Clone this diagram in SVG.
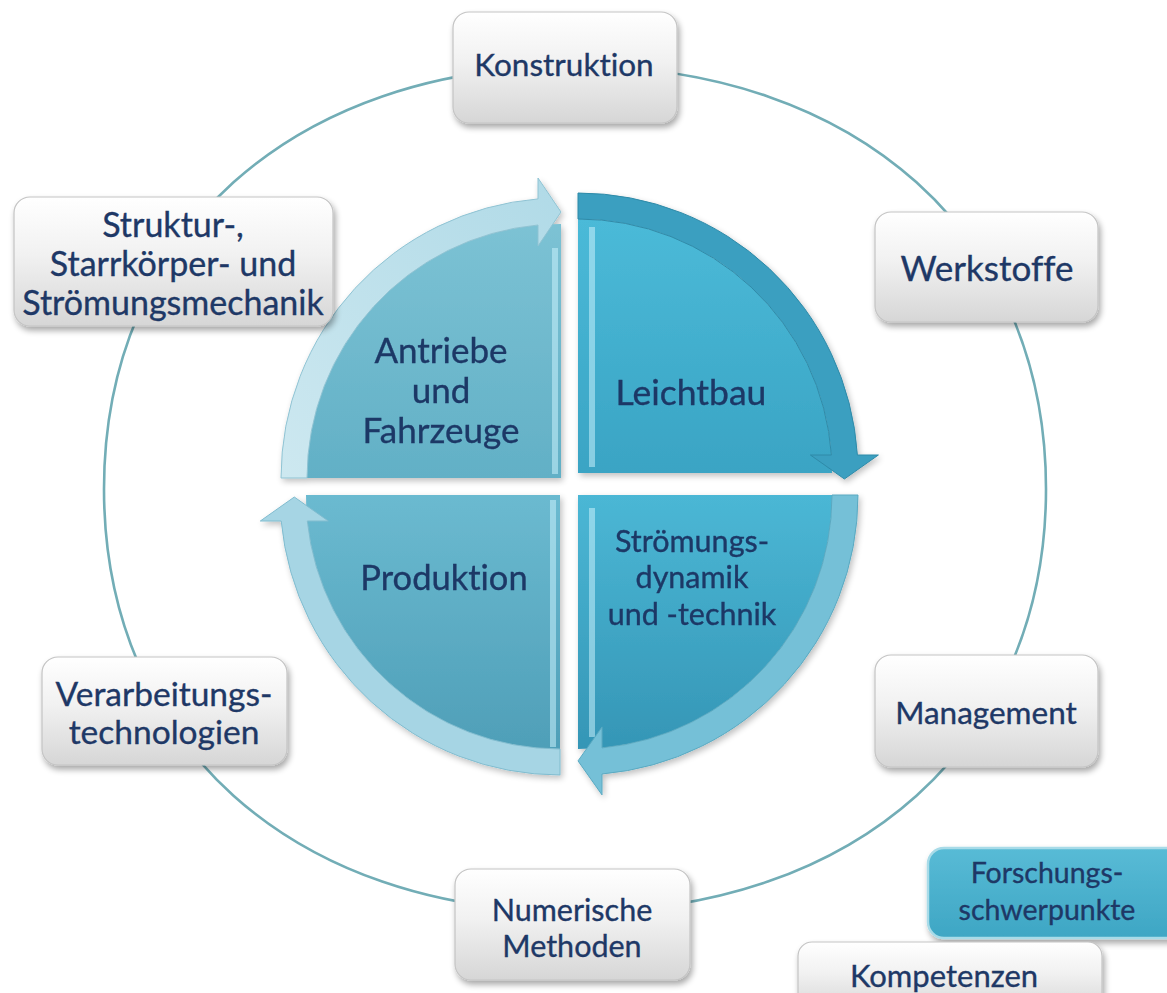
<svg xmlns="http://www.w3.org/2000/svg" width="1167" height="993" viewBox="0 0 1167 993">
  <defs>
    <linearGradient id="boxGrad" x1="0" y1="0" x2="0" y2="1">
      <stop offset="0" stop-color="#ffffff"/>
      <stop offset="0.45" stop-color="#f1f1f1"/>
      <stop offset="1" stop-color="#d6d6d6"/>
    </linearGradient>
    <linearGradient id="tealBoxGrad" x1="0" y1="0" x2="0" y2="1">
      <stop offset="0" stop-color="#58bbd6"/>
      <stop offset="1" stop-color="#3ea6c4"/>
    </linearGradient>
    <linearGradient id="tlFill" x1="0" y1="0" x2="0" y2="1">
      <stop offset="0" stop-color="#7cc2d4"/>
      <stop offset="1" stop-color="#62b0c6"/>
    </linearGradient>
    <linearGradient id="tlBand" x1="0" y1="1" x2="1" y2="0">
      <stop offset="0" stop-color="#cde8f0"/>
      <stop offset="1" stop-color="#b0dae7"/>
    </linearGradient>
    <linearGradient id="trFill" x1="0" y1="0" x2="0" y2="1">
      <stop offset="0" stop-color="#4bbad8"/>
      <stop offset="1" stop-color="#3aa4c4"/>
    </linearGradient>
    <linearGradient id="blFill" x1="0" y1="0" x2="0" y2="1">
      <stop offset="0" stop-color="#6bbad0"/>
      <stop offset="1" stop-color="#4f9fb8"/>
    </linearGradient>
    <linearGradient id="brFill" x1="0" y1="0" x2="0" y2="1">
      <stop offset="0" stop-color="#4bb7d5"/>
      <stop offset="1" stop-color="#3596b6"/>
    </linearGradient>
    <filter id="shadow" x="-10%" y="-10%" width="125%" height="130%">
      <feGaussianBlur in="SourceAlpha" stdDeviation="3"/>
      <feOffset dx="2" dy="4" result="b"/>
      <feComponentTransfer><feFuncA type="linear" slope="0.35"/></feComponentTransfer>
      <feMerge><feMergeNode/><feMergeNode in="SourceGraphic"/></feMerge>
    </filter>
    <filter id="softShadow" x="-10%" y="-10%" width="125%" height="125%">
      <feGaussianBlur in="SourceAlpha" stdDeviation="3"/>
      <feOffset dx="2" dy="3" result="b"/>
      <feComponentTransfer><feFuncA type="linear" slope="0.25"/></feComponentTransfer>
      <feMerge><feMergeNode/><feMergeNode in="SourceGraphic"/></feMerge>
    </filter>
  </defs>
  <style>
    .box { fill: url(#boxGrad); stroke: #c4c4c4; stroke-width: 1.2; filter: url(#shadow); }
    .tealbox { fill: url(#tealBoxGrad); stroke: #a8dbe8; stroke-width: 2.5; filter: url(#shadow); }
    .lbl { font-family: Lato, "Open Sans", "Liberation Sans", sans-serif; fill: #1e3866; stroke: #1e3866; stroke-width: 0.35; text-anchor: middle; font-variant-ligatures: none; font-feature-settings: "liga" 0, "clig" 0; }
    .ring { fill: none; stroke: #72adb6; stroke-width: 2.6; }
    .hl { fill: #c9f1fb; opacity: 0.55; }
  </style>

  <rect width="1167" height="993" fill="#ffffff"/>

  <!-- ring linking the competence boxes -->
  <g id="connectors">
    <path class="ring" d="M104,489 C104,235.2 292.4,66 575,66 C857.6,66 1046,235.2 1046,489 C1046,742.8 857.6,912 575,912 C292.4,912 104,742.8 104,489 Z"/>
  </g>

  <!-- four research quadrants -->
  <g id="q-antriebe" filter="url(#softShadow)">
    <path d="M561,478 L307,478 A254,254 0 0 1 561,224 Z" fill="url(#tlFill)"/>
    <rect class="hl" x="552" y="248" width="6" height="226"/>
    <path d="M281,478 A280,280 0 0 1 538,198.9 L538,178 L561,212 L538,246 L538,225 A254,254 0 0 0 307,478 Z" fill="url(#tlBand)" stroke="#8fc3d3" stroke-width="1"/>
    <text class="lbl" font-size="35" x="441" y="363">Antriebe</text>
    <text class="lbl" font-size="35" x="441" y="403">und</text>
    <text class="lbl" font-size="35" x="441" y="443">Fahrzeuge</text>
  </g>

  <g id="q-leichtbau" filter="url(#softShadow)">
    <path d="M578,473 L578,219 A254,254 0 0 1 832,473 Z" fill="url(#trFill)"/>
    <rect class="hl" x="589" y="227" width="6" height="240"/>
    <path d="M578,193 A280,280 0 0 1 857.4,455 L878.4,455 L844.4,479 L810.4,455 L831.4,455 A254,254 0 0 0 578,219 Z" fill="#3a9fc0" stroke="#2f8aa8" stroke-width="1"/>
    <text class="lbl" font-size="35.5" x="691" y="405">Leichtbau</text>
  </g>

  <g id="q-produktion" filter="url(#softShadow)">
    <path d="M560,495 L560,749 A254,254 0 0 1 306,495 Z" fill="url(#blFill)"/>
    <rect class="hl" x="550" y="500" width="6" height="247"/>
    <path d="M560,775 A280,280 0 0 1 281.2,521 L260.3,521 L294.3,497 L328.3,521 L307.3,521 A254,254 0 0 0 560,749 Z" fill="#a6d5e4" stroke="#80bccf" stroke-width="1"/>
    <text class="lbl" font-size="34.5" x="444" y="590">Produktion</text>
  </g>

  <g id="q-stroemung" filter="url(#softShadow)">
    <path d="M578,495 L832,495 A254,254 0 0 1 578,749 Z" fill="url(#brFill)"/>
    <rect class="hl" x="589" y="508" width="6" height="229"/>
    <path d="M858,495 A280,280 0 0 1 602,774 L602,794.9 L578,760.9 L602,726.9 L602,747.9 A254,254 0 0 0 832,495 Z" fill="#74c0d7" stroke="#5aa9c1" stroke-width="1"/>
    <text class="lbl" font-size="30.5" x="692" y="552">Strömungs-</text>
    <text class="lbl" font-size="30.5" x="692" y="588">dynamik</text>
    <text class="lbl" font-size="30.5" x="692" y="625">und -technik</text>
  </g>

  <!-- competence boxes on the ring -->
  <g id="n-konstruktion">
    <rect class="box" x="453" y="12" width="224" height="111" rx="16"/>
    <text class="lbl" font-size="31.5" x="564" y="76">Konstruktion</text>
  </g>

  <g id="n-struktur">
    <rect class="box" x="14" y="197" width="319" height="129" rx="16"/>
    <text class="lbl" font-size="34" x="173" y="237">Struktur-,</text>
    <text class="lbl" font-size="34" x="173" y="276">Starrkörper- und</text>
    <text class="lbl" font-size="34" x="173" y="315">Strömungsmechanik</text>
  </g>

  <g id="n-werkstoffe">
    <rect class="box" x="875" y="212" width="223" height="110" rx="16"/>
    <text class="lbl" font-size="35" x="987" y="281">Werkstoffe</text>
  </g>

  <g id="n-verarbeitung">
    <rect class="box" x="42" y="657" width="245" height="108" rx="16"/>
    <text class="lbl" font-size="33.5" x="164" y="706">Verarbeitungs-</text>
    <text class="lbl" font-size="33.5" x="164" y="744">technologien</text>
  </g>

  <g id="n-management">
    <rect class="box" x="875" y="655" width="223" height="112" rx="16"/>
    <text class="lbl" font-size="31.5" x="986" y="724">Management</text>
  </g>

  <g id="n-numerik">
    <rect class="box" x="455" y="869" width="235" height="111" rx="16"/>
    <text class="lbl" font-size="30.5" x="572" y="921">Numerische</text>
    <text class="lbl" font-size="30.5" x="572" y="957">Methoden</text>
  </g>

  <!-- legend -->
  <g id="legend-schwerpunkte">
    <rect class="tealbox" x="928" y="848" width="260" height="90" rx="16"/>
    <text class="lbl" font-size="28.5" x="1047" y="883">Forschungs-</text>
    <text class="lbl" font-size="28.5" x="1047" y="920">schwerpunkte</text>
  </g>

  <g id="legend-kompetenzen">
    <rect class="box" x="798" y="942" width="304" height="70" rx="14"/>
    <text class="lbl" font-size="31" x="944" y="987">Kompetenzen</text>
  </g>
</svg>
